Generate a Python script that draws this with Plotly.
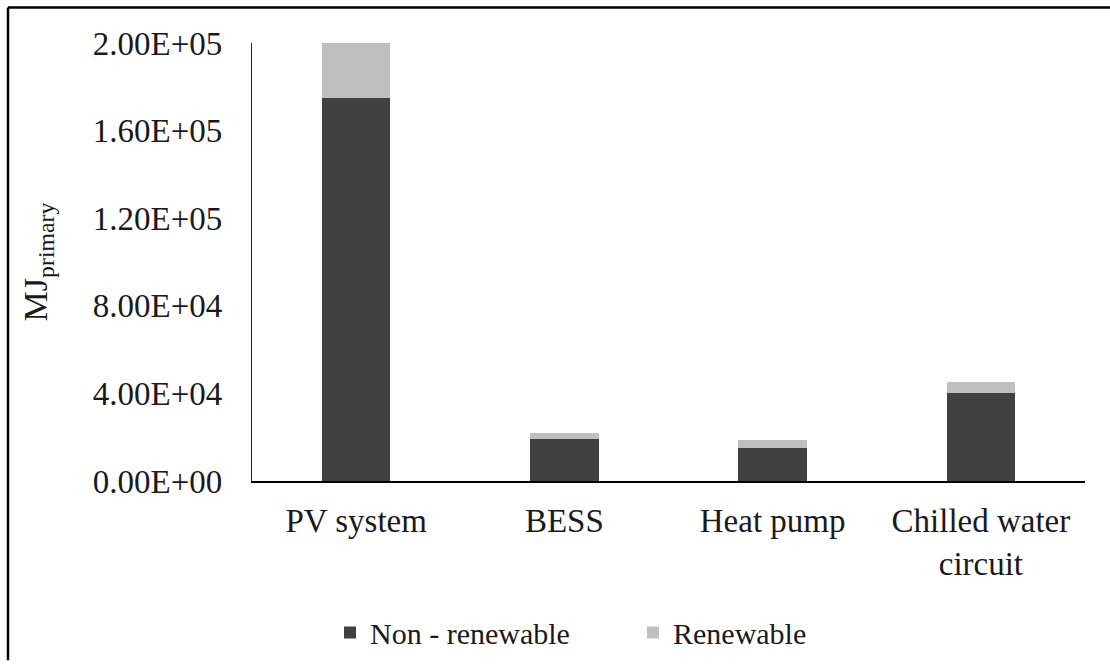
import plotly.graph_objects as go

categories = ["PV system", "BESS", "Heat pump", "Chilled water<br>circuit"]
non_renewable = [175000, 19200, 15200, 40000]
renewable = [25000, 2700, 3400, 5300]
y_ticks = [0, 40000, 80000, 120000, 160000, 200000]
y_tick_labels = [f"{v:.2E}" for v in y_ticks]

W, H = 1110, 670
L, R, T, B = 252, 25, 43, 182
FONT = "Times New Roman, Liberation Serif, serif"
FS = 33


def px_x(px):
    return (px - L) / (W - L - R)


def px_y(py):
    return (H - B - py) / (H - T - B)


fig = go.Figure()
fig.add_trace(go.Bar(x=categories, y=non_renewable, name="Non - renewable",
                     marker_color="#404040", marker_line_width=0))
fig.add_trace(go.Bar(x=categories, y=renewable, name="Renewable",
                     marker_color="#bfbfbf", marker_line_width=0))

fig.update_layout(
    barmode="stack",
    bargap=0.67,
    width=W, height=H,
    autosize=False,
    margin=dict(l=L, r=R, t=T, b=B, pad=0),
    paper_bgcolor="white", plot_bgcolor="white",
    font=dict(family=FONT, size=FS, color="#1a1a1a"),
    showlegend=True,
    legend=dict(orientation="h", traceorder="normal",
                x=px_x(330), xanchor="left",
                y=px_y(642), yanchor="middle",
                entrywidth=258, entrywidthmode="pixels",
                font=dict(family=FONT, size=30)),
    xaxis=dict(showline=True, linecolor="#000000", linewidth=1.5,
               showgrid=False, ticks="", ticklabelstandoff=10,
               automargin=False,
               tickfont=dict(family=FONT, size=FS)),
    yaxis=dict(range=[0, 200000], tickvals=y_ticks, ticktext=y_tick_labels,
               showline=True, linecolor="#222222", linewidth=1.2,
               showgrid=False, zeroline=False, ticks="", ticklabelstandoff=22,
               automargin=False,
               tickfont=dict(family=FONT, size=FS),
               title=dict(text="MJ<sub>primary</sub>", standoff=34,
                          font=dict(family=FONT, size=34))),
    shapes=[
        dict(type="line", xref="paper", yref="paper",
             x0=px_x(8), x1=px_x(W), y0=px_y(7), y1=px_y(7),
             line=dict(color="#000000", width=2.5)),
        dict(type="line", xref="paper", yref="paper",
             x0=px_x(8), x1=px_x(8), y0=px_y(7), y1=px_y(H),
             line=dict(color="#000000", width=2.5)),
    ],
)

fig.write_html(
    "out.html", config={"displayModeBar": False},
    post_script="var d=document.getElementById('{plot_id}');"
                "d.style.position='absolute';d.style.top='0';d.style.left='0';"
                "document.body.style.margin='0';"
                "document.body.style.overflow='hidden';"
                "document.documentElement.style.overflow='hidden';")
